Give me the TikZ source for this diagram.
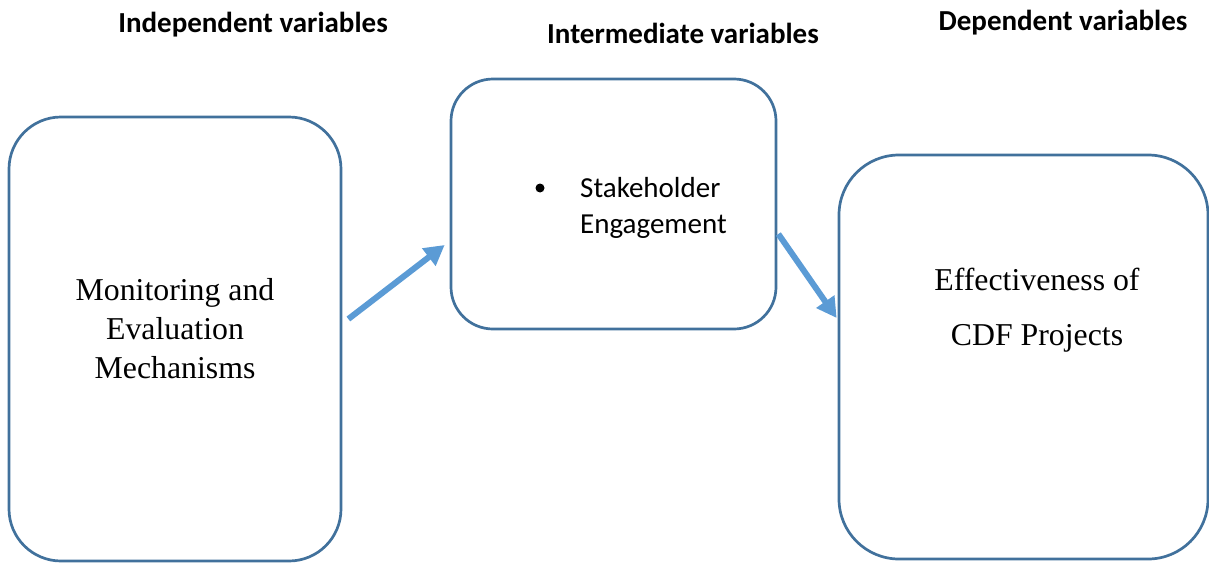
\documentclass[tikz,border=0pt]{standalone}
\usepackage{fontspec}
\setmainfont{Liberation Serif}
\newfontfamily\calib{Carlito}
\usetikzlibrary{arrows.meta,calc}
\definecolor{boxline}{HTML}{41719C}
\definecolor{arrowblue}{HTML}{5B9BD5}
\begin{document}
\begin{tikzpicture}[x=1pt,y=-1pt,
  varbox/.style={draw=boxline,line width=2.7pt,rectangle,inner sep=0pt},
  heading/.style={font=\calib\bfseries\fontsize{29}{35}\selectfont,anchor=center,inner sep=0pt},
  serifline/.style={font=\fontsize{31.8}{38}\selectfont,inner sep=0pt,anchor=base},
  midtext/.style={font=\calib\fontsize{29}{36}\selectfont,align=left,anchor=base west,inner sep=0pt},
  flow/.style={draw=arrowblue,line width=6pt,-{Triangle[length=20pt,width=21pt]}}]
\useasboundingbox (0,0) rectangle (1209,562);
% headings
\node[heading] (h1) at (253,25) {Independent variables};
\node[heading] (h2) at (683,33) {Intermediate variables};
\node[heading] (h3) at (1063,23) {Dependent variables};
% boxes
\node[varbox,rounded corners=52pt,minimum width=332pt,minimum height=444pt] (L) at (175,339) {};
\node[varbox,rounded corners=42pt,minimum width=325pt,minimum height=250pt] (M) at (613.5,204) {};
\node[varbox,rounded corners=60pt,minimum width=369pt,minimum height=404pt] (R) at (1023.5,357) {};
% left text
\node[serifline] (t1) at (175,300) {Monitoring and};
\node[serifline] (t2) at (175,339) {Evaluation};
\node[serifline] (t3) at (175,378) {Mechanisms};
% right text
\node[serifline] (r1) at (1037,290) {Effectiveness of};
\node[serifline] (r2) at (1037,345) {CDF Projects};
% middle text
\fill (540,188) circle (4.5pt) coordinate (bul);
\node[midtext] (m1) at (580,197) {Stakeholder};
\node[midtext] (m2) at (580,233) {Engagement};
% arrows
\coordinate (a1s) at ([shift={(6,-20)}]L.east);
\coordinate (a1e) at ([shift={(-5,41)}]M.west);
\draw[flow] (a1s) -- (a1e);
\coordinate (a2s) at ([shift={(1,30)}]M.east);
\coordinate (a2e) at ([shift={(-1,-39)}]R.west);
\draw[flow] (a2s) -- (a2e);
\end{tikzpicture}
\end{document}
